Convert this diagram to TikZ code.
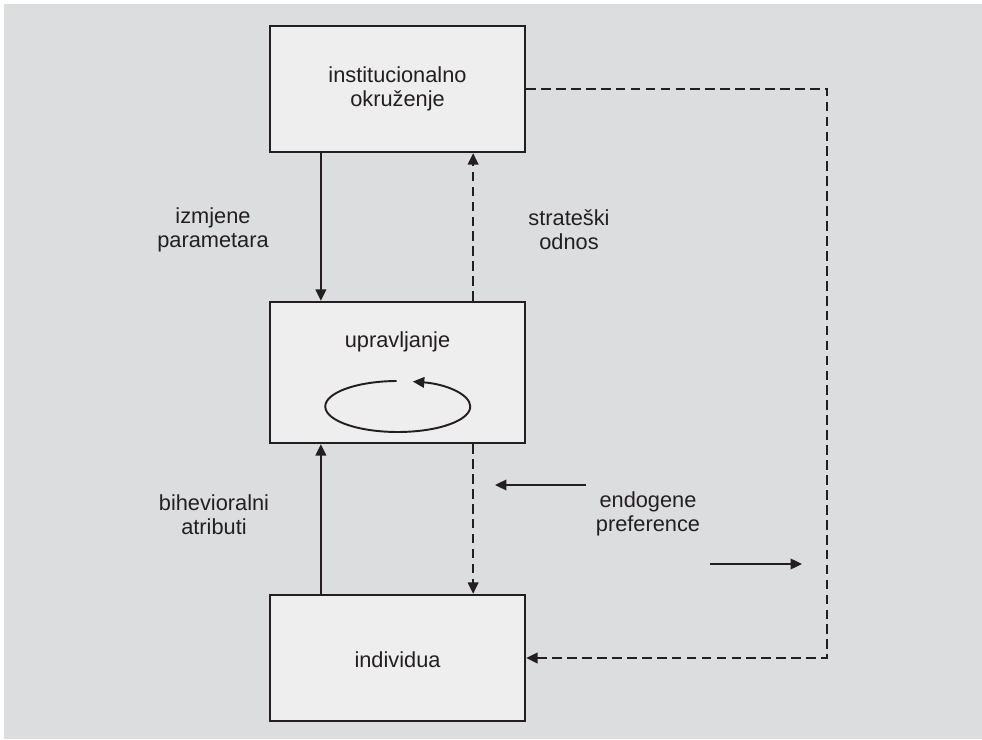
\documentclass[tikz,border=0pt]{standalone}
\usepackage{fontspec}
\setmainfont{Liberation Sans}
\usetikzlibrary{arrows.meta}

\definecolor{bggray}{HTML}{DCDDDF}
\definecolor{boxgray}{HTML}{EEEEEE}
\definecolor{inkgray}{HTML}{231F20}

\tikzset{
  blok/.style={draw=inkgray,line width=1.3pt,fill=boxgray,minimum width=5.1cm,inner sep=0pt},
  opis/.style={align=center,text=inkgray,font=\fontsize{12.4pt}{13.8pt}\selectfont},
  veza/.style={draw=inkgray,line width=1.1pt,-{Triangle[length=6.5pt,width=6pt]}},
  crtano/.style={veza,dash pattern=on 5.5pt off 3pt}
}

\begin{document}
\begin{tikzpicture}

  \useasboundingbox (0,0) rectangle (19.64,14.78);
  \fill[bggray] (0.08,0) rectangle (19.64,14.70);

  \node[blok,minimum height=2.52cm] (inst) at (7.95,13.0) {};
  \node[blok,minimum height=2.82cm] (upr) at (7.95,7.33) {};
  \node[blok,minimum height=2.52cm] (ind) at (7.95,1.62) {};

  \node[opis] (inst-t) at (7.95,13.0) {institucionalno\\okruženje};
  \node[opis] (upr-t) at (7.95,7.94) {upravljanje};
  \node[opis] (ind-t) at (7.95,1.58) {individua};

  \draw[veza] ([xshift=1.04cm]inst.south west) -- ([xshift=1.04cm]upr.north west);
  \draw[crtano] ([xshift=-1.06cm]upr.north east) -- ([xshift=-1.06cm]inst.south east);
  \draw[veza] ([xshift=1.04cm]ind.north west) -- ([xshift=1.04cm]upr.south west);
  \draw[crtano] ([xshift=-1.06cm]upr.south east) -- ([xshift=-1.06cm]ind.north east);
  \draw[crtano] (inst.east) -- ++(6.02,0) |- (ind.east);

  % kruzni tok unutar upravljanja
  \draw[veza] (7.93,7.16) arc[start angle=91,end angle=438,x radius=1.45cm,y radius=0.51cm];

  \node[opis] (izmjene) at (4.26,10.18) {izmjene\\parametara};
  \node[opis] (strat) at (11.38,10.18) {strateški\\odnos};
  \node[opis] (bihev) at (4.28,4.48) {bihevioralni\\atributi};
  \node[opis] (endo) at (12.96,4.5) {endogene\\preference};

  \coordinate (lijevo-a) at (11.72,5.08);
  \coordinate (lijevo-b) at (9.9,5.08);
  \coordinate (desno-a) at (14.2,3.5);
  \coordinate (desno-b) at (16.04,3.5);
  \draw[veza] (lijevo-a) -- (lijevo-b);
  \draw[veza] (desno-a) -- (desno-b);

\end{tikzpicture}
\end{document}
